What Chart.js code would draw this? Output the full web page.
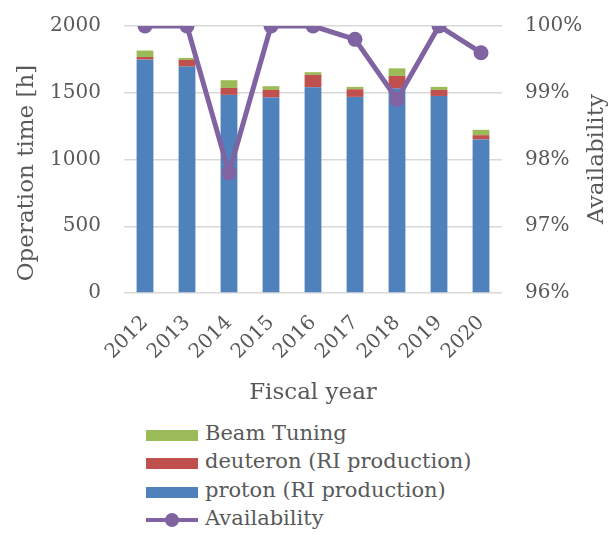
<!DOCTYPE html>
<html>
<head>
<meta charset="utf-8">
<script src="https://cdn.jsdelivr.net/npm/chart.js@4/dist/chart.umd.min.js"></script>
<style>
  body { margin: 0; background: #ffffff; }
  #wrap { position: relative; width: 610px; height: 534px; overflow: hidden; }
  #box { position: absolute; left: 0; top: 0; width: 610px; height: 410px; }
  .item { position: absolute; left: 146px; font-family: "DejaVu Serif", serif; font-size: 21px; color: #595959; white-space: nowrap; }
  .swatch { position: absolute; left: 0; width: 52px; height: 11px; }
  .item span.txt { position: absolute; left: 59px; top: -14px; }
</style>
</head>
<body>
<div id="wrap">
  <div id="box"><canvas id="graph"></canvas></div>
  <div id="legend"></div>
</div>
<script>
const years = ["2012", "2013", "2014", "2015", "2016", "2017", "2018", "2019", "2020"];
const proton = [1748, 1696, 1484, 1464, 1541, 1469, 1531, 1476, 1150];
const deuteron = [20, 50, 52, 57, 93, 57, 95, 45, 32];
const beamTuning = [48, 15, 58, 28, 20, 18, 57, 23, 40];
const availability = [100, 100, 97.8, 100, 100, 99.8, 98.9, 100, 99.6];

const hoursTicks = [0, 500, 1000, 1500, 2000];
const availTicks = [96, 97, 98, 99, 100];

const textColor = "#595959";
const fontFamily = "'DejaVu Serif', serif";

Chart.defaults.font.family = fontFamily;
Chart.defaults.color = textColor;

// axis titles drawn by hand so both read bottom-to-top
const axisTitles = {
  id: "axisTitles",
  afterDraw(chart) {
    const ctx = chart.ctx;
    ctx.save();
    ctx.fillStyle = textColor;
    ctx.font = "23px " + fontFamily;
    ctx.textAlign = "center";
    ctx.textBaseline = "middle";

    ctx.translate(27, 173);
    ctx.rotate(-Math.PI / 2);
    ctx.fillText("Operation time [h]", 0, 0);
    ctx.restore();

    ctx.save();
    ctx.fillStyle = textColor;
    ctx.font = "23px " + fontFamily;
    ctx.textAlign = "center";
    ctx.textBaseline = "middle";
    ctx.translate(597, 159);
    ctx.rotate(-Math.PI / 2);
    ctx.fillText("Availability", 0, 0);
    ctx.restore();
  },
};

const data = {
  labels: years,
  datasets: [
    {
      type: "line",
      label: "Availability",
      data: availability,
      yAxisID: "y1",
      borderColor: "#8064a2",
      backgroundColor: "#8064a2",
      borderWidth: 5,
      pointRadius: 7.5,
      pointBorderWidth: 0,
      order: 0,
    },
    {
      type: "bar",
      label: "proton (RI production)",
      data: proton,
      backgroundColor: "#4f81bd",
      yAxisID: "y",
      order: 1,
    },
    {
      type: "bar",
      label: "deuteron (RI production)",
      data: deuteron,
      backgroundColor: "#c0504d",
      yAxisID: "y",
      order: 1,
    },
    {
      type: "bar",
      label: "Beam Tuning",
      data: beamTuning,
      backgroundColor: "#9bbb59",
      yAxisID: "y",
      order: 1,
    },
  ],
};

// fixed box sizes so the plot area lands where the original has it
function fixVertical(width) {
  return function (scale) {
    scale.width = width;
    scale.paddingTop = 0;
    scale.paddingBottom = 0;
  };
}

const config = {
  type: "bar",
  data: data,
  options: {
    responsive: true,
    maintainAspectRatio: false,
    animation: false,
    layout: { autoPadding: false, padding: { top: 26, left: 0, right: 0, bottom: 0 } },
    datasets: { bar: { barPercentage: 0.4, categoryPercentage: 1 } },
    plugins: { legend: { display: false }, tooltip: { enabled: false } },
    scales: {
      x: {
        stacked: true,
        grid: { display: false },
        border: { display: false },
        ticks: { font: { size: 20 }, minRotation: 45, maxRotation: 45, padding: 10 },
        title: { display: true, text: "Fiscal year", font: { size: 23 }, padding: { top: 0, bottom: 3 } },
        afterFit(scale) { scale.height = 410 - 293; },
      },
      y: {
        stacked: true,
        position: "left",
        min: 0,
        max: 2000,
        afterBuildTicks(scale) { scale.ticks = hoursTicks.map((v) => ({ value: v })); },
        grid: { color: "#d9d9d9", lineWidth: 1.5, drawTicks: false },
        border: { display: false },
        ticks: { font: { size: 20 }, padding: 23, callback: (v) => String(v) },
        afterFit: fixVertical(124),
      },
      y1: {
        position: "right",
        min: 96,
        max: 100,
        afterBuildTicks(scale) { scale.ticks = availTicks.map((v) => ({ value: v })); },
        grid: { drawOnChartArea: false, drawTicks: false },
        border: { display: false },
        ticks: { font: { size: 20 }, padding: 23, callback: (v) => v + "%" },
        afterFit: fixVertical(108),
      },
    },
  },
  plugins: [axisTitles],
};

new Chart(document.getElementById("graph"), config);

// legend as plain html, one entry per row
const legendItems = [
  { text: "Beam Tuning", color: "#9bbb59", y: 435 },
  { text: "deuteron (RI production)", color: "#c0504d", y: 463 },
  { text: "proton (RI production)", color: "#4f81bd", y: 492 },
  { text: "Availability", color: "#8064a2", y: 520, line: true },
];

let html = "";
legendItems.forEach((item) => {
  let mark = "";
  if (item.line) {
    mark = `<div class="swatch" style="top:-2px;height:4px;background:${item.color}"></div>` +
      `<div class="swatch" style="left:19px;top:-7px;width:14px;height:14px;border-radius:7px;background:${item.color}"></div>`;
  } else {
    mark = `<div class="swatch" style="top:-5px;background:${item.color}"></div>`;
  }
  html += `<div class="item" style="top:${item.y}px">${mark}<span class="txt">${item.text}</span></div>`;
});
document.getElementById("legend").innerHTML = html;
</script>
</body>
</html>
